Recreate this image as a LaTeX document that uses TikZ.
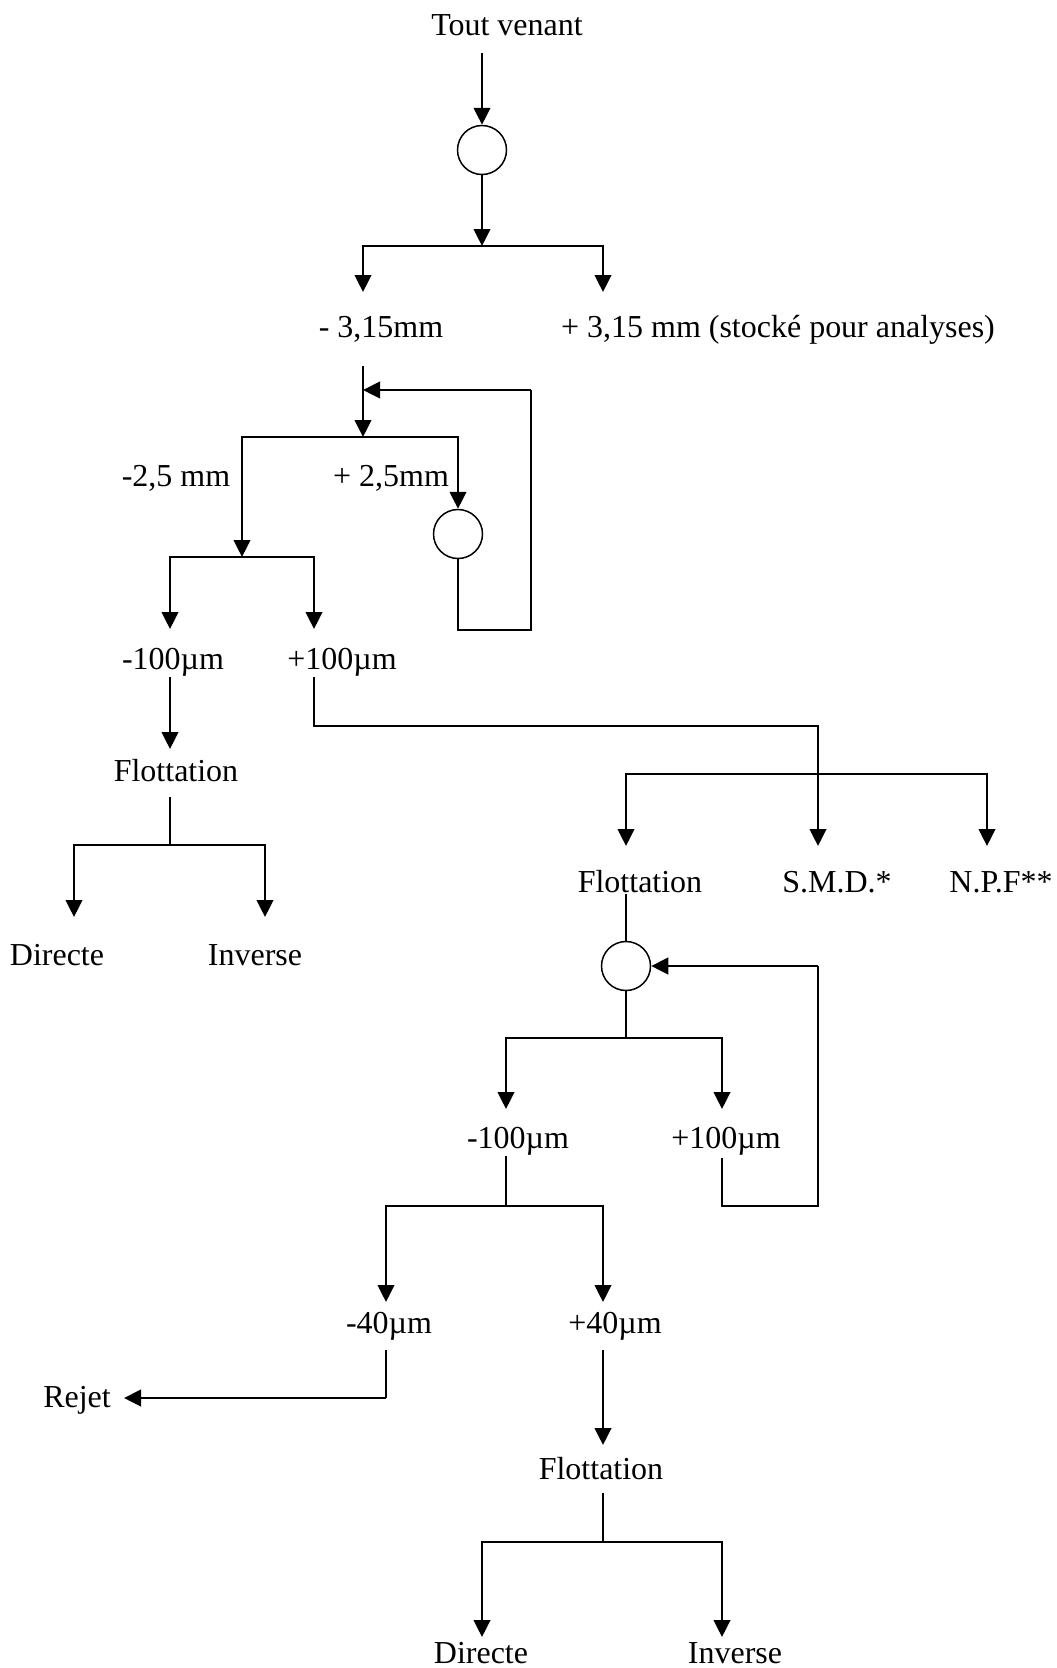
\documentclass[tikz,border=0pt]{standalone}
\usepackage{fontspec}
\setmainfont{Liberation Serif}
\usetikzlibrary{arrows.meta}
\definecolor{darkline}{HTML}{000000}
\tikzset{
  lbl/.style={
    anchor=base,
    inner sep=0pt,
    font=\fontsize{18.2}{22}\selectfont
  },
  unit/.style={
    circle,
    draw=darkline,
    line width=0.85pt,
    fill=white,
    minimum size=0.98cm,
    inner sep=0pt
  },
  flow/.style={
    -{Triangle[length=3.4mm, width=3.3mm]},
    line width=1.5pt,
    draw=darkline
  },
  link/.style={
    line width=0.85pt,
    draw=darkline
  }
}
\begin{document}
\begin{tikzpicture}

\useasboundingbox (0,0) rectangle (21.14,-33.36);

% Labels.
\node[lbl] (tv) at (10.14, -0.70) {Tout venant};
\node[lbl] (m315) at (7.62, -6.74) {- 3,15mm};
\node[lbl] (p315) at (15.56, -6.74) {+ 3,15 mm (stocké pour analyses)};
\node[lbl] (m25) at (3.52, -9.72) {-2,5 mm};
\node[lbl] (p25) at (7.82, -9.72) {+ 2,5mm};
\node[lbl] (m100a) at (3.46, -13.38) {-100µm};
\node[lbl] (p100a) at (6.84, -13.38) {+100µm};
\node[lbl] (flotA) at (3.52, -15.62) {Flottation};
\node[lbl] (dirA) at (1.14, -19.30) {Directe};
\node[lbl] (invA) at (5.10, -19.30) {Inverse};
\node[lbl] (flotB) at (12.80, -17.84) {Flottation};
\node[lbl] (smd) at (16.74, -17.84) {S.M.D.*};
\node[lbl] (npf) at (20.02, -17.84) {N.P.F**};
\node[lbl] (m100b) at (10.36, -22.96) {-100µm};
\node[lbl] (p100b) at (14.52, -22.96) {+100µm};
\node[lbl] (m40) at (7.78, -26.66) {-40µm};
\node[lbl] (p40) at (12.30, -26.66) {+40µm};
\node[lbl] (rejet) at (1.54, -28.14) {Rejet};
\node[lbl] (flotC) at (12.02, -29.58) {Flottation};
\node[lbl] (dirC) at (9.62, -33.26) {Directe};
\node[lbl] (invC) at (14.70, -33.26) {Inverse};

% Units.
\node[unit] (c1) at (9.64, -3.00) {};
\node[unit] (c2) at (9.16, -10.68) {};
\node[unit] (c3) at (12.52, -19.32) {};

% Routing points, top part.
\coordinate (a0) at (9.64, -1.06);
\coordinate (j1) at (9.64, -4.92);
\coordinate (t315l) at (7.26, -5.84);
\coordinate (t315r) at (12.06, -5.84);
\coordinate (s315) at (7.26, -7.32);
\coordinate (m2) at (7.26, -7.80);
\coordinate (j2) at (7.26, -8.74);
\coordinate (r2a) at (10.62, -12.60);
\coordinate (r2b) at (10.62, -7.80);
\coordinate (j3) at (4.84, -11.14);
\coordinate (t100l) at (3.40, -12.58);
\coordinate (t100r) at (6.28, -12.58);

% Routing points, left branch.
\coordinate (s100l) at (3.40, -13.54);
\coordinate (tflotA) at (3.40, -14.98);
\coordinate (sflotA) at (3.40, -15.94);
\coordinate (j5) at (3.40, -16.90);
\coordinate (tdirA) at (1.48, -18.34);
\coordinate (tinvA) at (5.30, -18.34);

% Routing points, right branch.
\coordinate (s100r) at (6.28, -13.54);
\coordinate (k1) at (16.36, -14.52);
\coordinate (k2) at (16.36, -15.48);
\coordinate (tflotB) at (12.52, -16.92);
\coordinate (tsmd) at (16.36, -16.92);
\coordinate (tnpf) at (19.74, -16.92);
\coordinate (sflotB) at (12.52, -17.88);
\coordinate (j6) at (12.52, -20.76);
\coordinate (tm100b) at (10.12, -22.18);
\coordinate (tp100b) at (14.44, -22.18);
\coordinate (sp100b) at (14.44, -23.16);
\coordinate (r3a) at (16.36, -24.12);
\coordinate (r3b) at (16.36, -19.32);
\coordinate (sm100b) at (10.12, -23.12);
\coordinate (j7) at (10.12, -24.12);
\coordinate (tm40) at (7.72, -26.04);
\coordinate (tp40) at (12.06, -26.04);
\coordinate (sm40) at (7.72, -27.00);
\coordinate (k3) at (7.72, -27.96);
\coordinate (trejet) at (2.48, -27.96);
\coordinate (sp40) at (12.06, -27.00);
\coordinate (tflotC) at (12.06, -28.90);
\coordinate (sflotC) at (12.06, -29.86);
\coordinate (j8) at (12.06, -30.84);
\coordinate (tdirC) at (9.64, -32.74);
\coordinate (tinvC) at (14.44, -32.74);

% First screening.
\draw[flow] (a0) -- (c1);
\draw[flow] (c1) -- (j1);
\draw[flow] (j1) -| (t315l);
\draw[flow] (j1) -| (t315r);

% 2,5 mm loop.
\draw[flow] (s315) -- (j2);
\draw[flow] (j2) -| (c2);
\draw[flow] (j2) -| (j3);
\draw[link] (c2) |- (r2a) -- (r2b);
\draw[flow] (r2b) -- (m2);
\draw[flow] (j3) -| (t100l);
\draw[flow] (j3) -| (t100r);

% Left flotation.
\draw[flow] (s100l) -- (tflotA);
\draw[link] (sflotA) -- (j5);
\draw[flow] (j5) -| (tdirA);
\draw[flow] (j5) -| (tinvA);

% +100 µm split.
\draw[link] (s100r) |- (k1) -- (k2);
\draw[flow] (k2) -- (tsmd);
\draw[flow] (k2) -| (tflotB);
\draw[flow] (k2) -| (tnpf);

% 100 µm loop.
\draw[link] (sflotB) -- (c3);
\draw[link] (c3) -- (j6);
\draw[flow] (j6) -| (tm100b);
\draw[flow] (j6) -| (tp100b);
\draw[link] (sp100b) |- (r3a) -- (r3b);
\draw[flow] (r3b) -- (c3);

% 40 µm cut.
\draw[link] (sm100b) -- (j7);
\draw[flow] (j7) -| (tm40);
\draw[flow] (j7) -| (tp40);
\draw[link] (sm40) -- (k3);
\draw[flow] (k3) -- (trejet);
\draw[flow] (sp40) -- (tflotC);
\draw[link] (sflotC) -- (j8);
\draw[flow] (j8) -| (tdirC);
\draw[flow] (j8) -| (tinvC);

\end{tikzpicture}
\end{document}
